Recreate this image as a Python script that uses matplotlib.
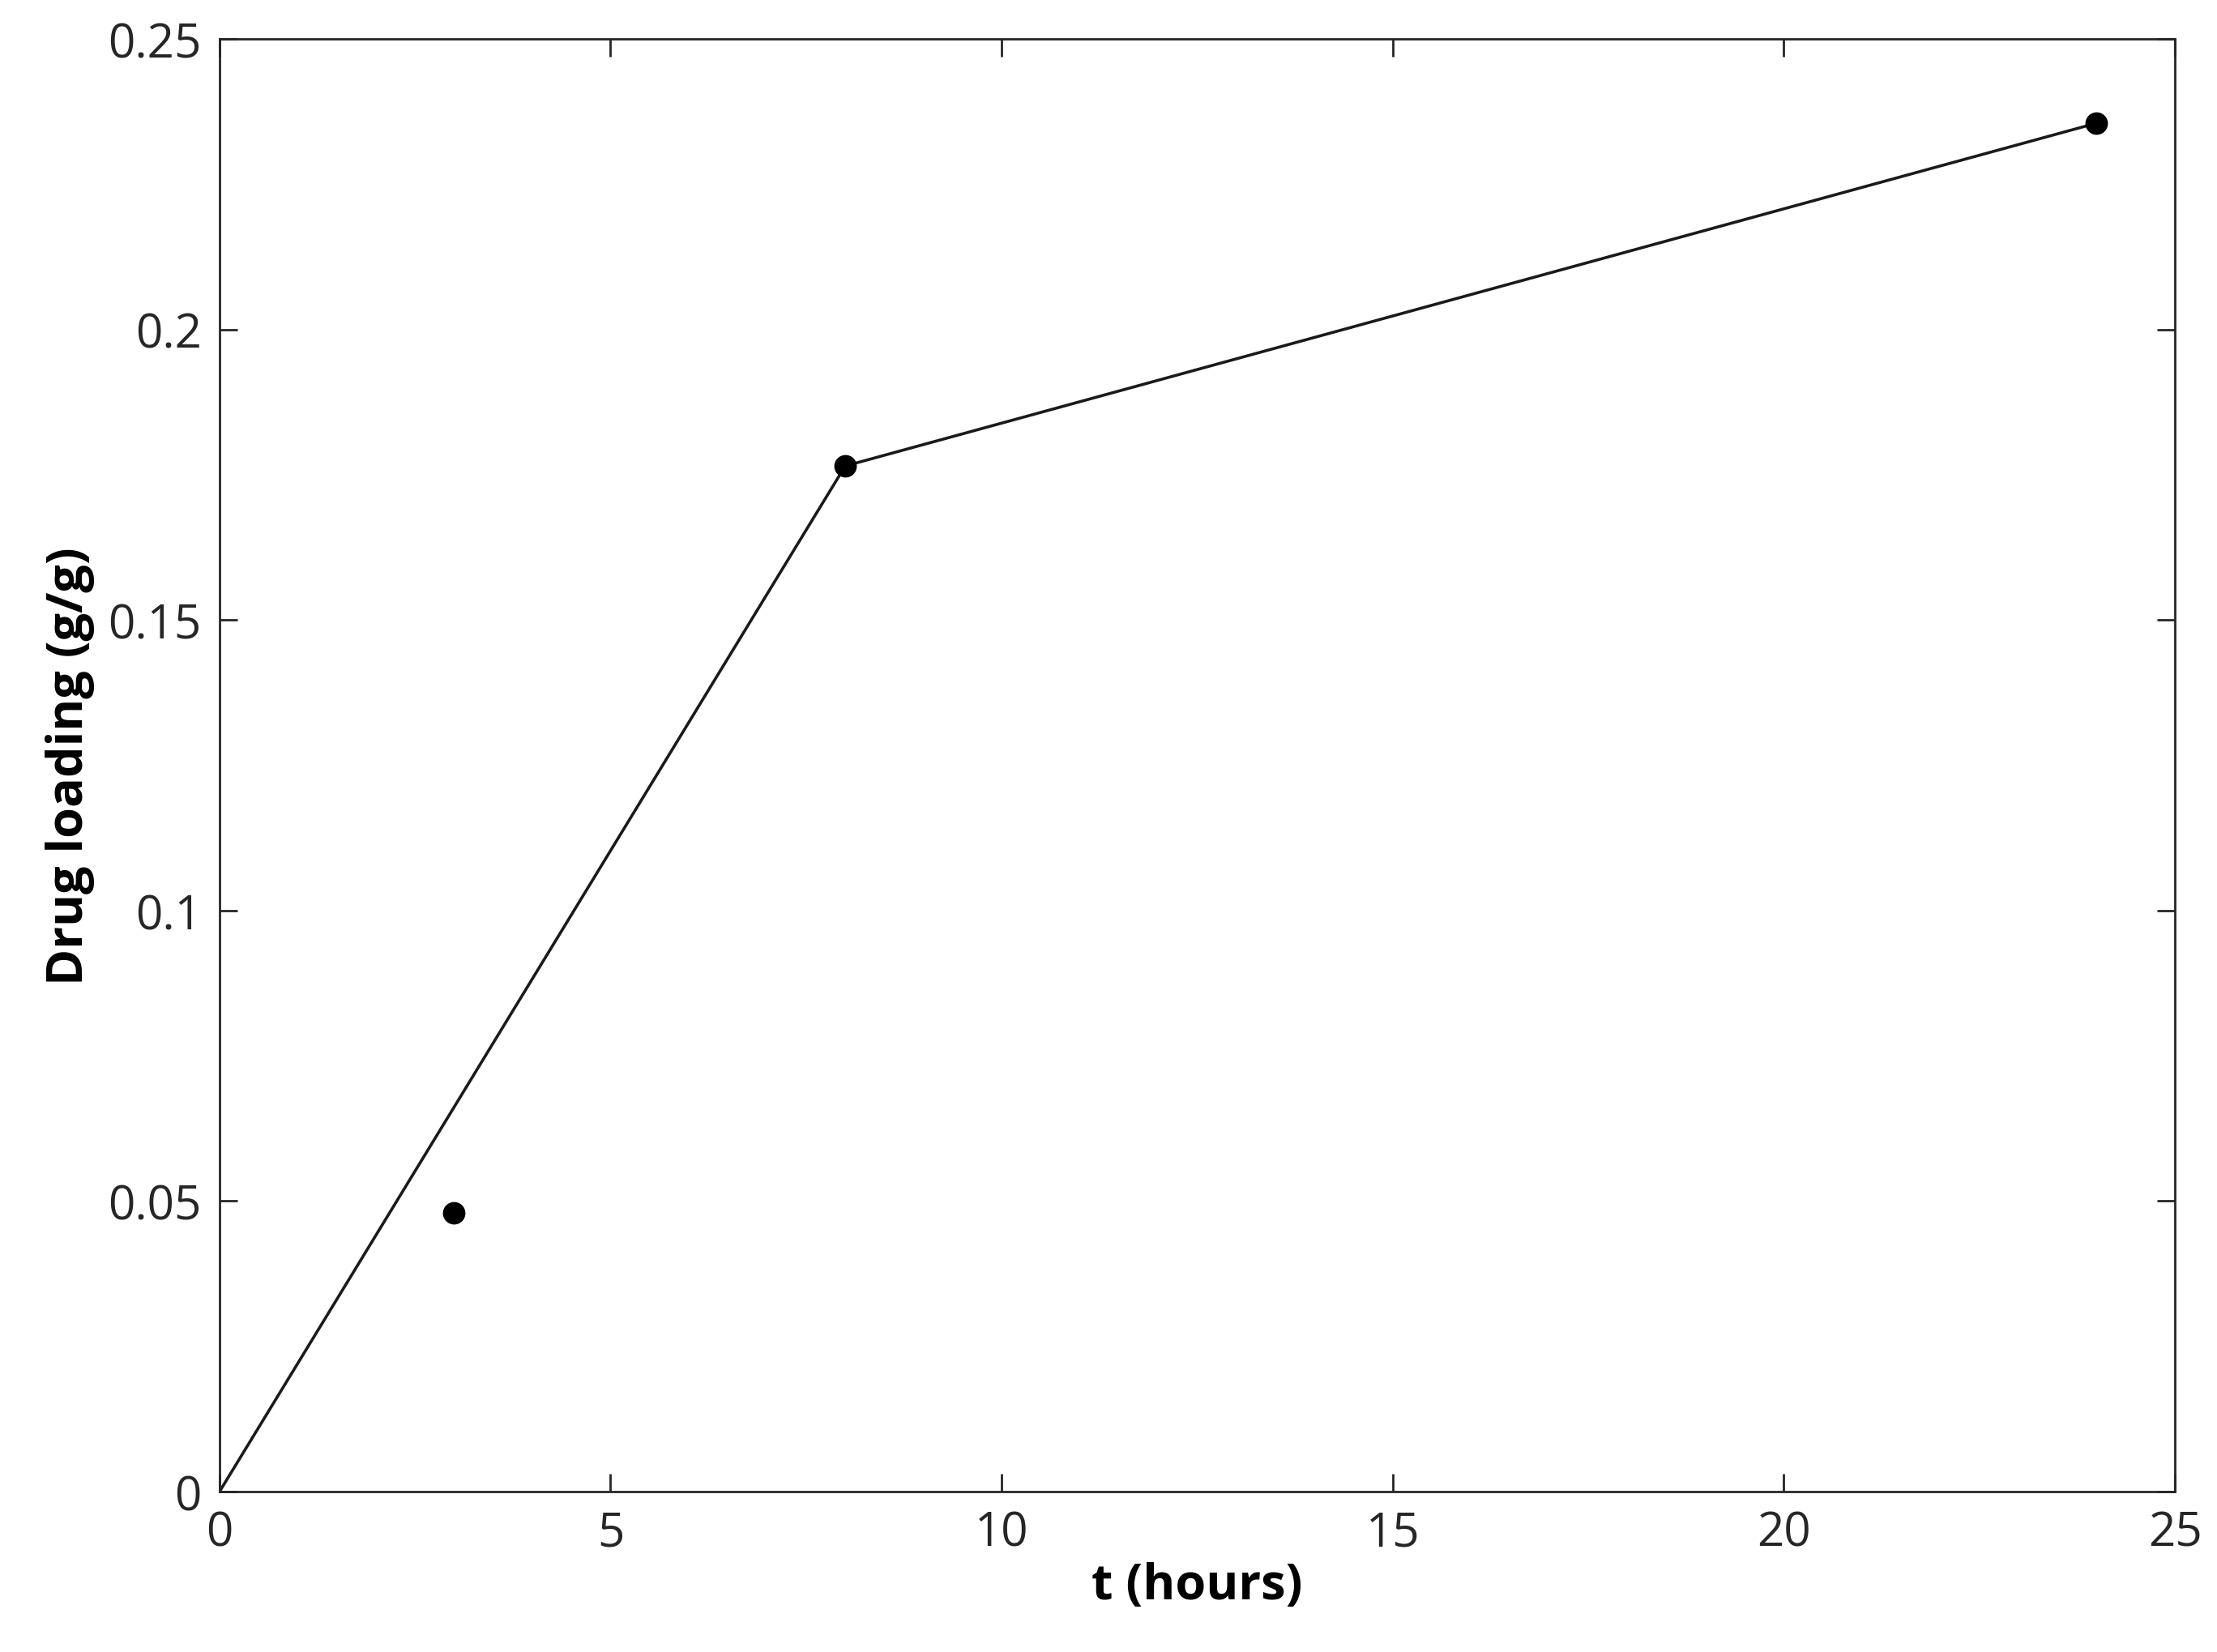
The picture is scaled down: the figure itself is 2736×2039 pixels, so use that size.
import matplotlib.pyplot as plt

# measured points
t_meas = [3, 8, 24]
load_meas = [0.048, 0.1765, 0.2355]
# fitted line
t_fit = [0, 8, 24]
load_fit = [0, 0.1765, 0.2355]

plt.rcParams['font.family'] = ['Open Sans', 'DejaVu Sans']

fig = plt.figure(figsize=(13.68, 10.2), dpi=200)
ax = fig.add_axes([0.099, 0.097, 0.882, 0.879])

ax.plot(t_fit, load_fit, color='#1a1a1a', linewidth=1.3)
ax.plot(t_meas, load_meas, 'o', color='black', markersize=9)

ax.set_xlim(0, 25)
ax.set_ylim(0, 0.25)
ax.set_xticks([0, 5, 10, 15, 20, 25])
ax.set_yticks([0, 0.05, 0.1, 0.15, 0.2, 0.25])
ax.set_yticklabels(['0', '0.05', '0.1', '0.15', '0.2', '0.25'])
ax.tick_params(direction='in', top=True, right=True, labelsize=21, length=8, width=1,
               colors='#262626', pad=8)
for s in ax.spines.values():
    s.set_linewidth(1.0)
    s.set_color('#262626')

ax.set_xlabel('t (hours)', fontsize=22, weight='bold', labelpad=2)
ax.set_ylabel('Drug loading (g/g)', fontsize=22, weight='bold', labelpad=6)

plt.savefig('out.png')
